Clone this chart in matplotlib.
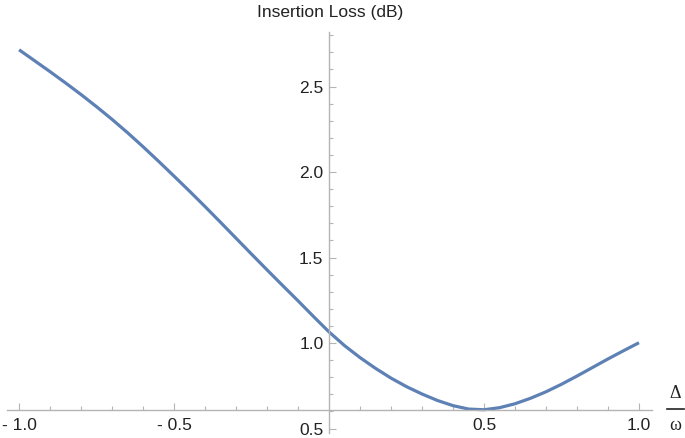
import matplotlib.pyplot as plt
import numpy as np
from matplotlib.lines import Line2D

# values
detuning = [-1.00, -0.95, -0.90, -0.85, -0.80, -0.75, -0.70, -0.65, -0.60, -0.55,
            -0.50, -0.45, -0.40, -0.35, -0.30, -0.25, -0.20, -0.15, -0.10, -0.05,
            0.00, 0.05, 0.10, 0.15, 0.20, 0.25, 0.30, 0.35, 0.40, 0.45,
            0.50, 0.55, 0.60, 0.65, 0.70, 0.75, 0.80, 0.85, 0.90, 0.95, 1.00]
loss_db = [2.715, 2.651, 2.587, 2.521, 2.453, 2.382, 2.308, 2.230, 2.148, 2.063,
           1.976, 1.888, 1.798, 1.706, 1.613, 1.520, 1.428, 1.337, 1.247, 1.155,
           1.065, 0.985, 0.915, 0.852, 0.795, 0.745, 0.702, 0.664, 0.634, 0.614,
           0.610, 0.622, 0.645, 0.677, 0.715, 0.759, 0.807, 0.857, 0.907, 0.955, 1.002]

x_major = [-1.0, -0.5, 0.5, 1.0]
x_labels = ['- 1.0', '- 0.5', '0.5', '1.0']
y_major = [0.5, 1.0, 1.5, 2.0, 2.5]
y_labels = ['0.5', '1.0', '1.5', '2.0', '2.5']

axis_origin_y = 0.608
line_color = '#5E81B5'
axis_color = '#b4b4b4'

plt.rcParams['font.family'] = ['Liberation Sans', 'DejaVu Sans']

fig = plt.figure(figsize=(6.85, 4.38), dpi=100)
W, H = 685, 438
ax = fig.add_axes([7 / W, 5 / H, 645 / W, 401 / H])

ax.plot(detuning, loss_db, color=line_color, linewidth=2.3,
        solid_capstyle='butt', solid_joinstyle='round')

ax.set_xlim(-1.039, 1.042)
ax.set_ylim(0.474, 2.819)

# Mathematica-like crossing axes
for s in ['top', 'right']:
    ax.spines[s].set_visible(False)
ax.spines['left'].set_position(('data', 0))
ax.spines['bottom'].set_position(('data', axis_origin_y))
for s in ['left', 'bottom']:
    ax.spines[s].set_color(axis_color)
    ax.spines[s].set_linewidth(1.0)

ax.set_xticks(x_major)
ax.set_xticklabels(x_labels)
ax.set_xticks([v for v in np.round(np.arange(-1.0, 1.01, 0.1), 2)
               if v not in x_major and v != 0], minor=True)
ax.set_yticks(y_major)
ax.set_yticklabels(y_labels)
ax.set_yticks([v for v in np.round(np.arange(0.6, 2.81, 0.1), 2)
               if v not in y_major], minor=True)

ax.tick_params(which='both', direction='in', color=axis_color, width=0.8,
               labelsize=12.5, labelcolor='#222222')
ax.tick_params(which='major', length=5)
ax.tick_params(which='minor', length=3)
ax.tick_params(axis='x', which='major', pad=6)
ax.tick_params(axis='y', which='major', pad=4)

fig.text(330 / W, 1 - 12 / H, 'Insertion Loss (dB)', ha='center', va='center',
         fontsize=12.5, color='#222222')

# Δ/ω axis label
fig.text(675 / W, 1 - 394 / H, 'Δ', ha='center', va='center', fontsize=13,
         family=['Liberation Serif', 'DejaVu Serif'], color='#222222')
fig.text(675 / W, 1 - 426 / H, 'ω', ha='center', va='center', fontsize=13,
         family=['Liberation Serif', 'DejaVu Serif'], color='#222222')
fig.add_artist(Line2D([667 / W, 684 / W], [1 - 409 / H, 1 - 409 / H],
                      transform=fig.transFigure, color='#222222', linewidth=1.2))

fig.savefig('out.png', dpi=100)
